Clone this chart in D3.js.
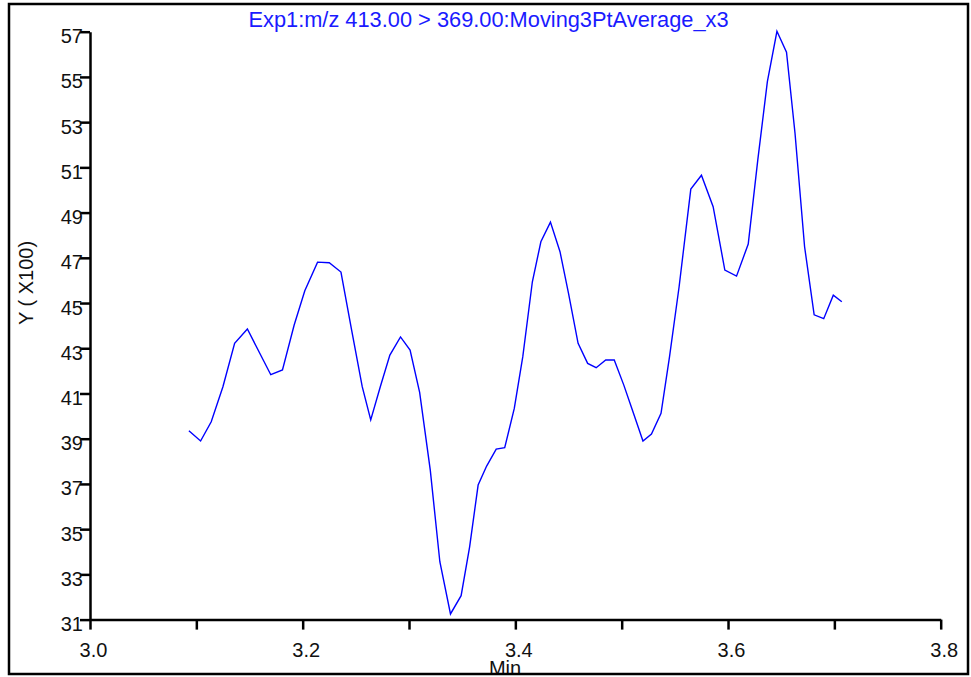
<!DOCTYPE html>
<html><head><meta charset="utf-8">
<script src="https://cdn.jsdelivr.net/npm/d3@7"></script>
<style>
html,body{margin:0;padding:0;background:#fff;}
svg{display:block;font-family:"Liberation Sans",Arial,sans-serif;}
</style></head>
<body><svg id="chart" width="971" height="677"></svg>
<script>
const title = "Exp1:m/z 413.00 > 369.00:Moving3PtAverage_x3";
const xLabel = "Min";
const yLabel = "Y ( X100)";
const xTicks = [3.0,3.1,3.2,3.3,3.4,3.5,3.6,3.7,3.8];
const xTickLabels = ["3.0","","3.2","","3.4","","3.6","","3.8"];
const yTicks = [31,33,35,37,39,41,43,45,47,49,51,53,55,57];
const times = [3.093,3.104,3.114,3.125,3.136,3.148,3.170,3.181,3.192,3.202,3.214,3.225,3.236,3.246,3.256,3.264,3.273,3.282,3.292,3.301,3.310,3.320,3.329,3.339,3.349,3.357,3.365,3.373,3.382,3.390,3.399,3.407,3.416,3.424,3.433,3.442,3.450,3.459,3.468,3.476,3.485,3.493,3.502,3.511,3.520,3.528,3.537,3.545,3.554,3.565,3.575,3.586,3.597,3.608,3.619,3.628,3.637,3.646,3.655,3.663,3.672,3.681,3.690,3.699,3.707];
const values = [39.35,38.90,39.75,41.30,43.22,43.85,41.83,42.04,44.03,45.54,46.81,46.78,46.37,43.81,41.30,39.83,41.30,42.70,43.50,42.92,41.05,37.61,33.56,31.25,32.06,34.22,36.95,37.79,38.54,38.60,40.34,42.63,45.94,47.71,48.58,47.27,45.43,43.22,42.33,42.14,42.48,42.48,41.37,40.14,38.90,39.21,40.12,42.63,45.72,50.04,50.65,49.26,46.46,46.19,47.61,51.33,54.79,57.02,56.09,52.51,47.49,44.48,44.31,45.35,45.06];

const svg = d3.select("#chart");
const x = d3.scaleLinear().domain([3.0,3.8]).range([90,940.7]);
const y = d3.scaleLinear().domain([31,57]).range([619.6,31.7]);

// line
const data = times.map((t,i)=>({t, v: values[i]}));
svg.append("path").datum(data)
  .attr("fill","none").attr("stroke","#0000ff").attr("stroke-width",1.4)
  .attr("stroke-linejoin","miter")
  .attr("d", d3.line().x(d=>x(d.t)).y(d=>y(d.v)));

// y axis
const yAxis = svg.append("g").attr("transform","translate(90,0)")
  .call(d3.axisLeft(y).tickValues(yTicks).tickSize(10).tickSizeOuter(0).tickPadding(0).tickFormat(d3.format("d")));
yAxis.select(".domain").attr("stroke","#000").attr("stroke-width",2.5);
yAxis.selectAll(".tick line").attr("stroke","#000").attr("stroke-width",2.5);
yAxis.selectAll(".tick text").attr("font-size",20).attr("fill","#111")
  .attr("x",-7).attr("dy",null).attr("y",11).attr("font-family","Liberation Sans, Arial, sans-serif");

// x axis
const xAxis = svg.append("g").attr("transform","translate(0,619.6)")
  .call(d3.axisBottom(x).tickValues(xTicks).tickSize(10).tickSizeOuter(0).tickPadding(0)
    .tickFormat((d,i)=>xTickLabels[i]));
xAxis.select(".domain").attr("stroke","#000").attr("stroke-width",2.5);
xAxis.selectAll(".tick line").attr("stroke","#000").attr("stroke-width",2.5);
xAxis.selectAll(".tick text").attr("font-size",20).attr("fill","#111")
  .attr("dy",null).attr("y",37).attr("x",3).attr("font-family","Liberation Sans, Arial, sans-serif");

// title
svg.append("text").attr("x",488.5).attr("y",27).attr("text-anchor","middle")
  .attr("font-size",21.8).attr("fill","#1a1aff").text(title);

// y label
svg.append("text").attr("transform","translate(33,283) rotate(-90)")
  .attr("text-anchor","middle").attr("font-size",20).attr("fill","#111").text(yLabel);

// x label
svg.append("text").attr("x",505).attr("y",674.5).attr("text-anchor","middle")
  .attr("font-size",20).attr("fill","#111").text(xLabel);

// frame
svg.append("rect").attr("x",9).attr("y",4).attr("width",959).attr("height",670)
  .attr("fill","none").attr("stroke","#000").attr("stroke-width",2.5);
</script></body></html>
